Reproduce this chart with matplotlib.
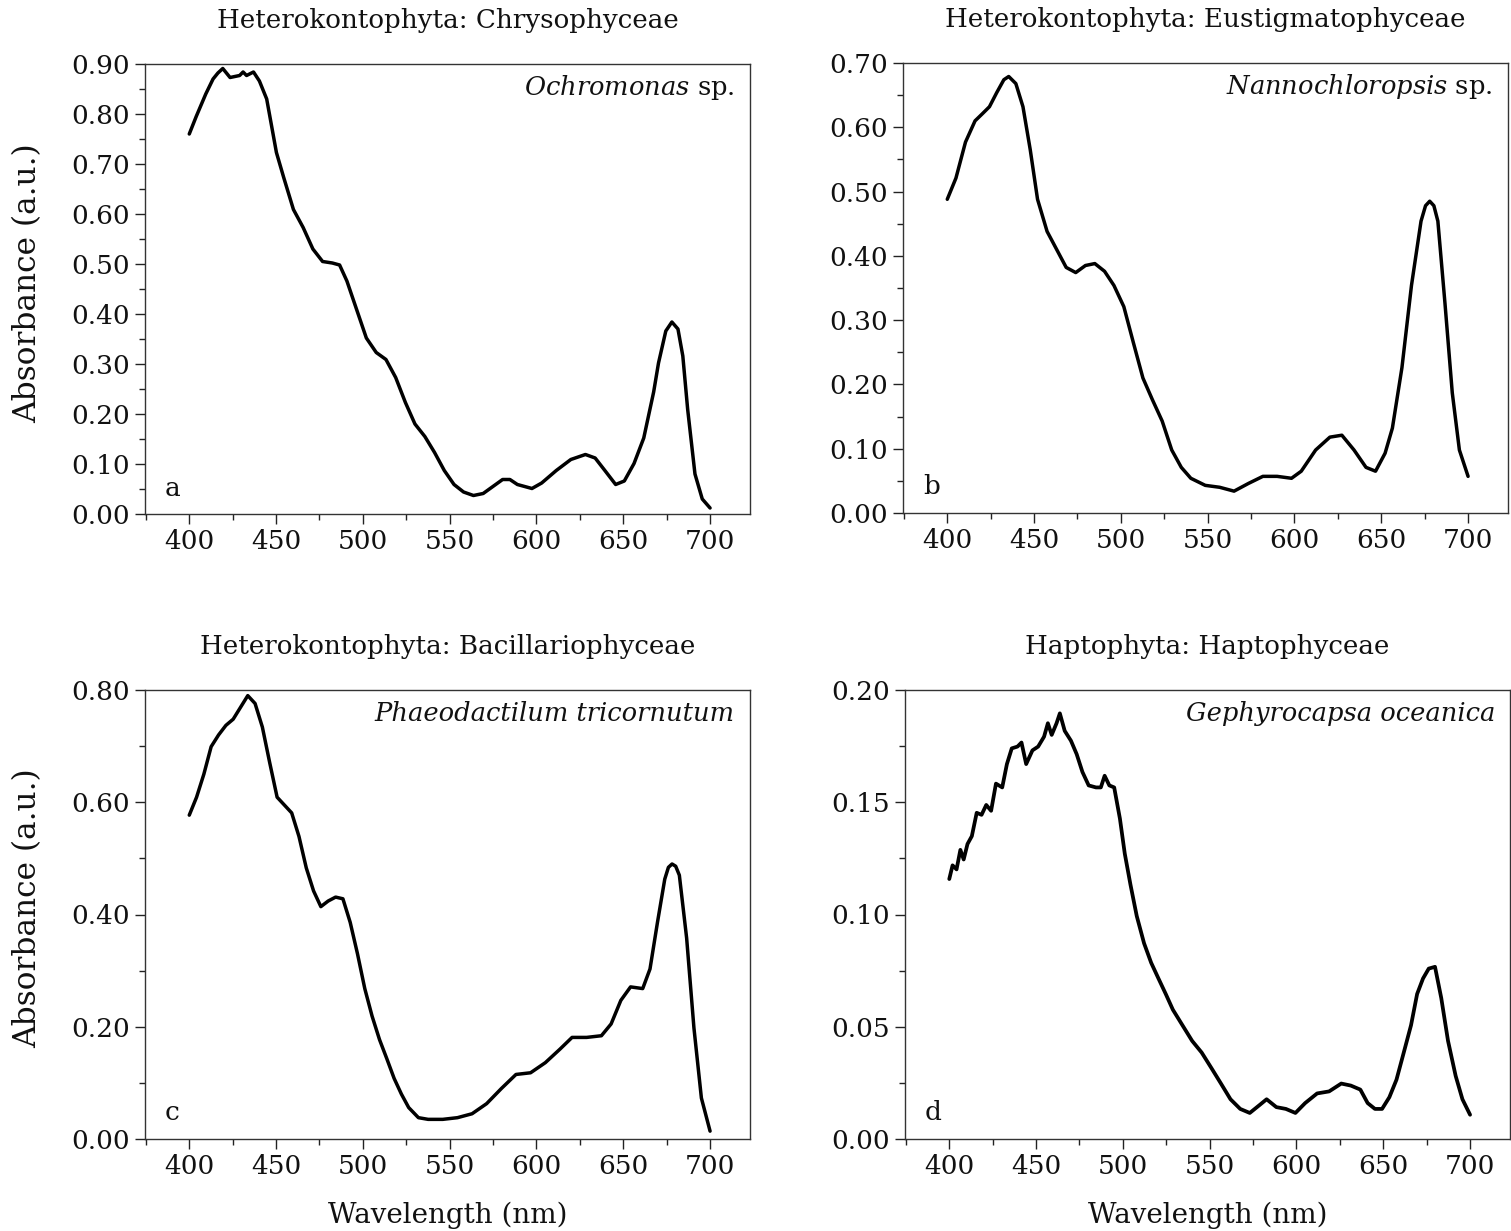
import matplotlib
matplotlib.use("Agg")
import matplotlib.pyplot as plt
from matplotlib.ticker import MultipleLocator, FormatStrFormatter

plt.rcParams['font.family'] = ['DejaVu Serif']
plt.rcParams['mathtext.fontset'] = 'dejavuserif'

# ---------------- data ----------------
wl_a = [400, 404, 409.5, 413.7, 416.5, 419.3, 423.5, 429, 431, 433, 437, 440.4, 444.6,
        450.2, 454.4, 460, 465.6, 471.2, 476.8, 482.4, 486.6, 490.8, 496.4, 502, 507.7,
        513.3, 518.9, 524.5, 530, 535.7, 541.3, 546.9, 552.5, 558, 563.7, 569.3, 574.9,
        580.5, 584.7, 589, 597.4, 603, 611.4, 619.8, 628.2, 633.8, 639.4, 645.6, 650.6,
        656.2, 661.8, 667.5, 670.3, 674.5, 678, 681.5, 684.3, 687.1, 691.3, 695.5, 700]
abs_a = [0.760, 0.795, 0.840, 0.870, 0.882, 0.891, 0.873, 0.877, 0.884, 0.877, 0.884, 0.866, 0.830,
         0.723, 0.673, 0.609, 0.573, 0.530, 0.505, 0.502, 0.498, 0.466, 0.409, 0.352, 0.323,
         0.309, 0.273, 0.223, 0.180, 0.155, 0.123, 0.087, 0.059, 0.044, 0.037, 0.041, 0.055,
         0.069, 0.069, 0.059, 0.051, 0.062, 0.087, 0.109, 0.119, 0.112, 0.087, 0.059, 0.066,
         0.101, 0.152, 0.244, 0.302, 0.366, 0.384, 0.370, 0.316, 0.209, 0.080, 0.030, 0.012]

wl_b = [400, 405, 410.5, 416, 420.2, 424.3, 428.5, 432.6, 435.4, 439.5, 443.6, 447.8, 452,
        457.5, 463, 468.5, 474, 479.6, 485, 490.6, 496, 501.7, 507.2, 512.7, 518.2, 523.8,
        529.3, 534.8, 540.3, 548.6, 556.9, 565.2, 573.5, 581.8, 590, 598.3, 603.9, 612.2,
        620.4, 627.3, 634.3, 641.2, 646.7, 652.2, 656.4, 661.9, 667.4, 672.9, 675.5, 677.9,
        680.3, 682.6, 686.7, 690.9, 695, 700]
abs_b = [0.488, 0.521, 0.577, 0.610, 0.621, 0.632, 0.654, 0.674, 0.679, 0.668, 0.632, 0.565, 0.488,
         0.438, 0.410, 0.382, 0.374, 0.385, 0.388, 0.376, 0.354, 0.321, 0.265, 0.210, 0.176, 0.143,
         0.098, 0.071, 0.054, 0.043, 0.040, 0.034, 0.046, 0.057, 0.057, 0.054, 0.065, 0.098,
         0.118, 0.121, 0.098, 0.071, 0.065, 0.093, 0.132, 0.226, 0.354, 0.454, 0.478, 0.485,
         0.478, 0.454, 0.326, 0.187, 0.098, 0.057]

wl_c = [400, 404.2, 408.4, 412.6, 416.9, 421.1, 425.3, 429.5, 433.7, 437.9, 442.1, 446.3, 450.6,
        454.8, 459, 463.2, 467.4, 471.6, 475.8, 480, 484.3, 488.5, 492.7, 496.9, 501.1, 505.3,
        509.6, 513.8, 518, 522.2, 526.4, 532, 537.6, 546, 554.5, 562.9, 571.3, 579.8, 588.2,
        596.6, 605.1, 613.5, 620.5, 628.9, 637.4, 643, 648.6, 654.2, 661.2, 665.4, 669.7,
        673.9, 676, 678.1, 680.2, 682.3, 686.5, 690.7, 695, 700]
abs_c = [0.577, 0.609, 0.650, 0.699, 0.720, 0.737, 0.748, 0.769, 0.790, 0.776, 0.734, 0.671, 0.609,
         0.595, 0.581, 0.539, 0.483, 0.442, 0.414, 0.424, 0.431, 0.428, 0.386, 0.330, 0.268, 0.219,
         0.177, 0.143, 0.108, 0.080, 0.056, 0.038, 0.035, 0.035, 0.038, 0.045, 0.063, 0.090, 0.115,
         0.118, 0.136, 0.160, 0.181, 0.181, 0.184, 0.205, 0.247, 0.271, 0.268, 0.303, 0.386,
         0.463, 0.484, 0.490, 0.486, 0.470, 0.358, 0.198, 0.073, 0.014]

wl_d = [400, 401.9, 404.2, 406.4, 408.3, 410.5, 413, 415.8, 418.6, 421.3, 424.1, 426.9, 430.5,
        433.2, 436, 439.3, 441.6, 444.3, 447.9, 451.2, 454.6, 456.8, 459, 461.8, 463.7, 466.5,
        470.1, 473.4, 476.7, 480.3, 484.5, 487.3, 489.5, 492.2, 495, 498.3, 501.1, 504.4, 508,
        512.2, 516.3, 520.5, 524.7, 528.8, 534.3, 539.9, 545.4, 551, 556.5, 562, 567.6, 573.1,
        578.7, 582.8, 588.4, 593.9, 599.4, 605, 611.9, 618.8, 625.8, 631.3, 636.8, 641, 645.2,
        649.3, 653.5, 657.6, 661.8, 666, 669.5, 672.9, 676.2, 679.8, 683.4, 687.3, 691.7,
        695.6, 700]
abs_d = [0.1158, 0.1219, 0.1201, 0.1288, 0.1245, 0.1314, 0.1349, 0.1453, 0.1444, 0.1488, 0.1462,
         0.1583, 0.1566, 0.1670, 0.1740, 0.1748, 0.1766, 0.1670, 0.1731, 0.1748, 0.1792, 0.1852,
         0.1800, 0.1852, 0.1896, 0.1818, 0.1774, 0.1714, 0.1635, 0.1575, 0.1566, 0.1566, 0.1618,
         0.1575, 0.1566, 0.1427, 0.1271, 0.1132, 0.0993, 0.0872, 0.0785, 0.0715, 0.0646, 0.0576,
         0.0507, 0.0437, 0.0385, 0.0316, 0.0247, 0.0177, 0.0134, 0.0116, 0.0151, 0.0177, 0.0142,
         0.0134, 0.0116, 0.0160, 0.0203, 0.0212, 0.0247, 0.0238, 0.0220, 0.0160, 0.0134, 0.0134,
         0.0186, 0.0264, 0.0385, 0.0507, 0.0646, 0.0715, 0.0759, 0.0767, 0.0628, 0.0437, 0.0281,
         0.0177, 0.0108]

titles = ["Heterokontophyta: Chrysophyceae", "Heterokontophyta: Eustigmatophyceae",
          "Heterokontophyta: Bacillariophyceae", "Haptophyta: Haptophyceae"]
species = [(r"$\it{Ochromonas}$", " sp."), (r"$\it{Nannochloropsis}$", " sp."),
           ("Phaeodactilum tricornutum", ""), ("Gephyrocapsa oceanica", "")]
letters = ["a", "b", "c", "d"]
ymax = [0.90, 0.70, 0.80, 0.20]
ymajor = [0.10, 0.10, 0.20, 0.05]
yminor = [0.05, 0.05, 0.10, 0.025]
xticks = [400, 450, 500, 550, 600, 650, 700]
xlabel = "Wavelength (nm)"
ylabel = "Absorbance (a.u.)"
data = [(wl_a, abs_a), (wl_b, abs_b), (wl_c, abs_c), (wl_d, abs_d)]

# ---------------- figure ----------------
W, H = 1511, 1231
fig = plt.figure(figsize=(W / 100, H / 100), dpi=100)

boxes = [(145, 64, 605, 450), (903, 63, 605, 450), (145, 690, 605, 449), (905, 690, 605, 449)]

for i, (bx, by, bw, bh) in enumerate(boxes):
    ax = fig.add_axes([bx / W, 1 - (by + bh) / H, bw / W, bh / H])
    x, y = data[i]
    ax.plot(x, y, color='black', lw=2.5 if i < 3 else 2.7, solid_joinstyle='round',
            solid_capstyle='round')
    ax.set_xlim(374.5, 723)
    ax.set_ylim(0, ymax[i])
    ax.set_xticks(xticks)
    ax.xaxis.set_minor_locator(MultipleLocator(25))
    ax.yaxis.set_major_locator(MultipleLocator(ymajor[i]))
    ax.yaxis.set_minor_locator(MultipleLocator(yminor[i]))
    ax.yaxis.set_major_formatter(FormatStrFormatter('%.2f'))
    ax.tick_params(which='major', direction='out', length=7, width=1.0, labelsize=19, pad=4,
                   colors='#222222', labelcolor='#111111')
    ax.tick_params(which='minor', direction='out', length=4, width=1.0, colors='#222222')
    for s in ax.spines.values():
        s.set_linewidth(1.0)
        s.set_color('#333333')
    ax.text(0.5, 1 + 44 / bh, titles[i], transform=ax.transAxes, ha='center', va='center',
            fontsize=18.8, color='#111111')
    name, suffix = species[i]
    if suffix:
        ax.text(0.975, 0.948, name + suffix, transform=ax.transAxes, ha='right', va='center',
                fontsize=18.5, color='#111111')
    else:
        ax.text(0.975, 0.948, name, transform=ax.transAxes, ha='right', va='center',
                fontsize=18.5, style='italic', color='#111111')
    ax.text(20 / bw, 26 / bh, letters[i], transform=ax.transAxes, ha='left', va='center',
            fontsize=19, color='#111111')
    if i in (0, 2):
        fig.text(28 / W, 1 - (by + bh / 2 - 6) / H, ylabel, rotation=90, ha='center', va='center',
                 fontsize=22.5, color='#111111')
    if i in (2, 3):
        fig.text((bx + bw / 2) / W, 1 - 1215 / H, xlabel, ha='center', va='center',
                 fontsize=20, color='#111111')

fig.savefig("out.png", dpi=100, facecolor='white')
